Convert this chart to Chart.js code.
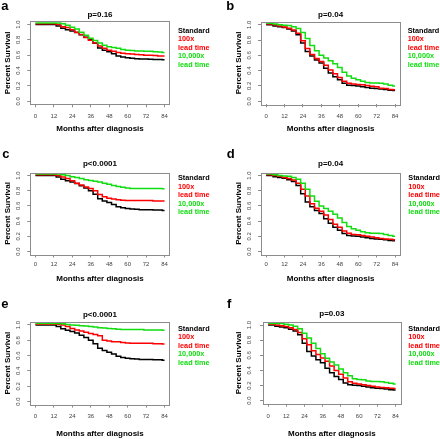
<!DOCTYPE html>
<html>
<head>
<meta charset="utf-8">
<script src="https://cdn.jsdelivr.net/npm/chart.js@4.4.1/dist/chart.umd.min.js"></script>
<style>
  html, body { margin: 0; padding: 0; background: #fff; }
  #page { position: relative; width: 440px; height: 439px; overflow: hidden; font-family: 'Liberation Sans', Arial, sans-serif; }
  .cell { position: absolute; }
  .cell canvas { position: absolute; left: 0; top: 0; }
  .letter { position: absolute; font-weight: bold; font-size: 13px; line-height: 13px; color: #000; }
  .legend { position: absolute; font-weight: bold; font-size: 7.3px; line-height: 8.5px; white-space: nowrap; }
</style>
</head>
<body>
<div id="page"></div>
<script>
// months after diagnosis, read every 3 months off the curves
const months = [0, 3, 6, 9, 12, 15, 18, 21, 24, 27, 30, 33, 36, 39, 42, 45, 48, 51, 54, 57, 60, 63, 66, 69, 72, 75, 78, 81, 84]

// left column (a, c, e)
const standardA = [1.0, 1.0, 1.0, 1.0, 1.0, 0.98, 0.95, 0.93, 0.915, 0.895, 0.865, 0.835, 0.80, 0.755, 0.695, 0.665, 0.645, 0.62, 0.59, 0.575, 0.565, 0.56, 0.555, 0.55, 0.55, 0.548, 0.545, 0.545, 0.54]
const lead100A = [1.01, 1.01, 1.01, 1.01, 1.01, 1.0, 0.97, 0.96, 0.93, 0.90, 0.87, 0.83, 0.795, 0.76, 0.72, 0.69, 0.665, 0.65, 0.635, 0.625, 0.62, 0.615, 0.61, 0.605, 0.60, 0.60, 0.595, 0.59, 0.59]
const lead10kA = [1.02, 1.02, 1.02, 1.02, 1.02, 1.02, 1.01, 0.99, 0.965, 0.94, 0.90, 0.86, 0.82, 0.79, 0.76, 0.73, 0.71, 0.70, 0.69, 0.675, 0.665, 0.66, 0.655, 0.655, 0.65, 0.65, 0.645, 0.64, 0.635]
const lead100C = [1.01, 1.01, 1.01, 1.01, 1.01, 1.0, 0.98, 0.96, 0.93, 0.90, 0.875, 0.85, 0.83, 0.80, 0.75, 0.72, 0.70, 0.69, 0.68, 0.675, 0.67, 0.67, 0.67, 0.67, 0.67, 0.67, 0.665, 0.665, 0.665]
const lead10kC = [1.02, 1.02, 1.02, 1.02, 1.02, 1.02, 1.01, 1.0, 0.985, 0.975, 0.96, 0.945, 0.935, 0.925, 0.915, 0.90, 0.885, 0.87, 0.855, 0.845, 0.835, 0.83, 0.83, 0.83, 0.83, 0.83, 0.83, 0.83, 0.825]
const lead100E = [1.01, 1.01, 1.01, 1.01, 1.01, 1.01, 1.0, 0.98, 0.955, 0.935, 0.92, 0.905, 0.89, 0.875, 0.86, 0.80, 0.79, 0.78, 0.78, 0.77, 0.765, 0.76, 0.76, 0.76, 0.76, 0.76, 0.755, 0.755, 0.75]
const lead10kE = [1.02, 1.02, 1.02, 1.02, 1.02, 1.02, 1.015, 1.005, 1.0, 0.995, 0.99, 0.985, 0.98, 0.975, 0.965, 0.96, 0.955, 0.95, 0.945, 0.94, 0.94, 0.94, 0.94, 0.94, 0.935, 0.935, 0.935, 0.935, 0.93]

// right column (b, d, f)
const standardB = [1.0, 1.0, 0.985, 0.975, 0.965, 0.945, 0.92, 0.87, 0.76, 0.65, 0.59, 0.54, 0.50, 0.43, 0.37, 0.32, 0.28, 0.235, 0.21, 0.205, 0.20, 0.19, 0.18, 0.17, 0.165, 0.16, 0.155, 0.145, 0.14]
const lead100B = [1.01, 1.01, 1.0, 0.985, 0.97, 0.955, 0.93, 0.89, 0.79, 0.69, 0.61, 0.56, 0.52, 0.47, 0.41, 0.36, 0.31, 0.26, 0.235, 0.225, 0.22, 0.215, 0.205, 0.195, 0.19, 0.17, 0.165, 0.155, 0.15]
const lead10kB = [1.02, 1.02, 1.01, 1.0, 0.995, 0.99, 0.975, 0.95, 0.90, 0.82, 0.73, 0.66, 0.60, 0.565, 0.53, 0.49, 0.44, 0.38, 0.33, 0.30, 0.28, 0.26, 0.245, 0.24, 0.24, 0.235, 0.225, 0.21, 0.20]
const lead100D = [1.01, 1.01, 1.0, 0.99, 0.975, 0.96, 0.94, 0.90, 0.82, 0.73, 0.63, 0.57, 0.53, 0.48, 0.42, 0.36, 0.32, 0.27, 0.24, 0.225, 0.22, 0.21, 0.20, 0.19, 0.18, 0.17, 0.165, 0.16, 0.155]
const lead100F = [1.01, 1.01, 1.0, 0.99, 0.98, 0.965, 0.94, 0.90, 0.82, 0.74, 0.66, 0.61, 0.565, 0.52, 0.46, 0.40, 0.35, 0.30, 0.25, 0.23, 0.22, 0.21, 0.20, 0.19, 0.18, 0.175, 0.17, 0.165, 0.16]
const lead10kF = [1.02, 1.02, 1.02, 1.02, 1.01, 1.0, 0.985, 0.95, 0.89, 0.83, 0.76, 0.69, 0.62, 0.56, 0.51, 0.47, 0.42, 0.37, 0.33, 0.29, 0.28, 0.275, 0.26, 0.255, 0.255, 0.25, 0.24, 0.23, 0.22]

const monthTicks = [0, 12, 24, 36, 48, 60, 72, 84]
const survivalTicks = [0, 0.2, 0.4, 0.6, 0.8, 1.0]
const panelKeys = ['a', 'b', 'c', 'd', 'e', 'f']
const pValues = ['p=0.16', 'p=0.04', 'p<0.0001', 'p=0.04', 'p<0.0001', 'p=0.03']
const seriesNames = ['Standard', '100x lead time', '10,000x lead time']
const legendLines = ['Standard', '100x', 'lead time', '10,000x', 'lead time']
const legendSeries = [0, 1, 1, 2, 2]

const panelSeries = {
  a: [standardA, lead100A, lead10kA],
  b: [standardB, lead100B, lead10kB],
  c: [standardA, lead100C, lead10kC],
  d: [standardB, lead100D, lead10kB],
  e: [standardA, lead100E, lead10kE],
  f: [standardB, lead100F, lead10kF]
}

const seriesColors = ['#000000', '#ff0000', '#11dd11']

// where each panel sits (cell = x, y, w, h; box = plot frame inside the cell)
const layout = {
  a: { cell: [0, 0, 220, 145], box: [30.3, 21.4, 169.7, 104.3], titleY: 15, yTitleX: 7.3, yTickX: 18.7, xTickY: 116, xTitleY: 128.3, legend: [178, 31], letter: [1.2, -1.5] },
  b: { cell: [220, 0, 220, 145], box: [41, 21.7, 180.2, 104.3], titleY: 15, yTitleX: 18.3, yTickX: 29.3, xTickY: 116, xTitleY: 128.3, legend: [187.7, 31], letter: [6.2, -1] },
  c: { cell: [0, 145, 220, 145], box: [30.3, 27.5, 169.7, 109.5], titleY: 18.3, yTitleX: 7.3, yTickX: 18.7, xTickY: 119.3, xTitleY: 133.3, legend: [178, 33.3], letter: [2.2, 2] },
  d: { cell: [220, 145, 220, 145], box: [41, 27.5, 180.2, 109.5], titleY: 18.3, yTitleX: 18.3, yTickX: 29.3, xTickY: 119.3, xTitleY: 133.3, legend: [188.3, 33.3], letter: [6.8, 2.3] },
  e: { cell: [0, 290, 220, 149], box: [30.3, 31.9, 169.7, 114.6], titleY: 25, yTitleX: 7.3, yTickX: 18.7, xTickY: 126, xTitleY: 144, legend: [178, 39], letter: [1.2, 7.3] },
  f: { cell: [220, 290, 220, 149], box: [43, 32, 180.7, 113.7], titleY: 24, yTitleX: 18.3, yTickX: 29.3, xTickY: 126, xTitleY: 144, legend: [188.3, 39], letter: [7, 7.3] }
}

Chart.defaults.font.family = "'Liberation Sans', Arial, sans-serif"
Chart.defaults.animation = false

const frame = {
  id: 'frame',
  afterDraw(chart) {
    const { ctx, chartArea: a } = chart
    ctx.save()
    ctx.strokeStyle = '#8c8c8c'
    ctx.lineWidth = 1
    ctx.strokeRect(Math.round(a.left) + 0.5, Math.round(a.top) + 0.5, Math.round(a.right - a.left), Math.round(a.bottom - a.top))
    ctx.restore()
  }
}

const page = document.getElementById('page')

const createPanel = (key, index) => {
  const L = layout[key]
  const [cx, cy, w, h] = L.cell
  const [bl, bt, br, bb] = L.box
  const tickLen = 3
  const xH = L.xTitleY - bb + 4.8

  const cell = document.createElement('div')
  cell.className = 'cell'
  cell.style.cssText = `left:${cx}px;top:${cy}px;width:${w}px;height:${h}px`
  const canvas = document.createElement('canvas')
  canvas.width = w
  canvas.height = h
  cell.appendChild(canvas)

  const letter = document.createElement('div')
  letter.className = 'letter'
  letter.textContent = key
  letter.style.left = L.letter[0] + 'px'
  letter.style.top = L.letter[1] + 'px'
  cell.appendChild(letter)

  const legend = document.createElement('div')
  legend.className = 'legend'
  legend.style.left = L.legend[0] + 'px'
  legend.style.top = (L.legend[1] - 4.25) + 'px'
  legendLines.forEach((text, i) => {
    const line = document.createElement('div')
    line.textContent = text
    line.style.color = seriesColors[legendSeries[i]]
    legend.appendChild(line)
  })
  cell.appendChild(legend)
  page.appendChild(cell)

  const datasets = panelSeries[key].map((values, i) => ({
    label: seriesNames[i],
    data: months.map((m, j) => ({ x: m, y: values[j] })),
    borderColor: seriesColors[i],
    backgroundColor: seriesColors[i],
    borderWidth: 1.5,
    pointRadius: 0,
    stepped: 'middle',
    fill: false,
    order: 2 - i
  }))

  new Chart(canvas.getContext('2d'), {
    type: 'line',
    data: { datasets },
    plugins: [frame],
    options: {
      responsive: false,
      layout: { padding: { left: 0, top: 0, right: w - br, bottom: h - bb - xH } },
      plugins: {
        legend: { display: false },
        tooltip: { enabled: false },
        title: {
          display: true,
          text: pValues[index],
          fullSize: false,
          color: '#000',
          font: { size: 8, weight: 'bold' },
          padding: { top: L.titleY - 4.8, bottom: bt - L.titleY - 4.8 }
        }
      },
      scales: {
        x: {
          type: 'linear',
          min: -3.36,
          max: 87.36,
          afterBuildTicks: s => { s.ticks = monthTicks.map(v => ({ value: v })) },
          afterFit: s => { s.height = xH },
          border: { display: false },
          grid: { drawOnChartArea: false, drawTicks: true, tickLength: tickLen, color: '#8c8c8c' },
          ticks: {
            autoSkip: false,
            maxRotation: 0,
            padding: L.xTickY - bb - tickLen - 3.6,
            color: '#444',
            font: { size: 6 },
            callback: v => String(v)
          },
          title: {
            display: true,
            text: 'Months after diagnosis',
            color: '#000',
            font: { size: 8, weight: 'bold' },
            padding: { top: 0, bottom: 0 }
          }
        },
        y: {
          type: 'linear',
          min: -0.04,
          max: 1.04,
          afterBuildTicks: s => { s.ticks = survivalTicks.map(v => ({ value: v })) },
          afterFit: s => { s.width = bl },
          border: { display: false },
          grid: { drawOnChartArea: false, drawTicks: true, tickLength: tickLen, color: '#8c8c8c' },
          ticks: {
            autoSkip: false,
            minRotation: 90,
            maxRotation: 90,
            crossAlign: 'center',
            padding: bl - tickLen - 4.17 - L.yTickX,
            color: '#444',
            font: { size: 6 },
            callback: v => v.toFixed(1)
          },
          title: {
            display: true,
            text: 'Percent Survival',
            color: '#000',
            font: { size: 8, weight: 'bold' },
            padding: { top: L.yTitleX - 4.8, bottom: 0 }
          }
        }
      }
    }
  })
}

panelKeys.forEach(createPanel)
</script>
</body>
</html>
